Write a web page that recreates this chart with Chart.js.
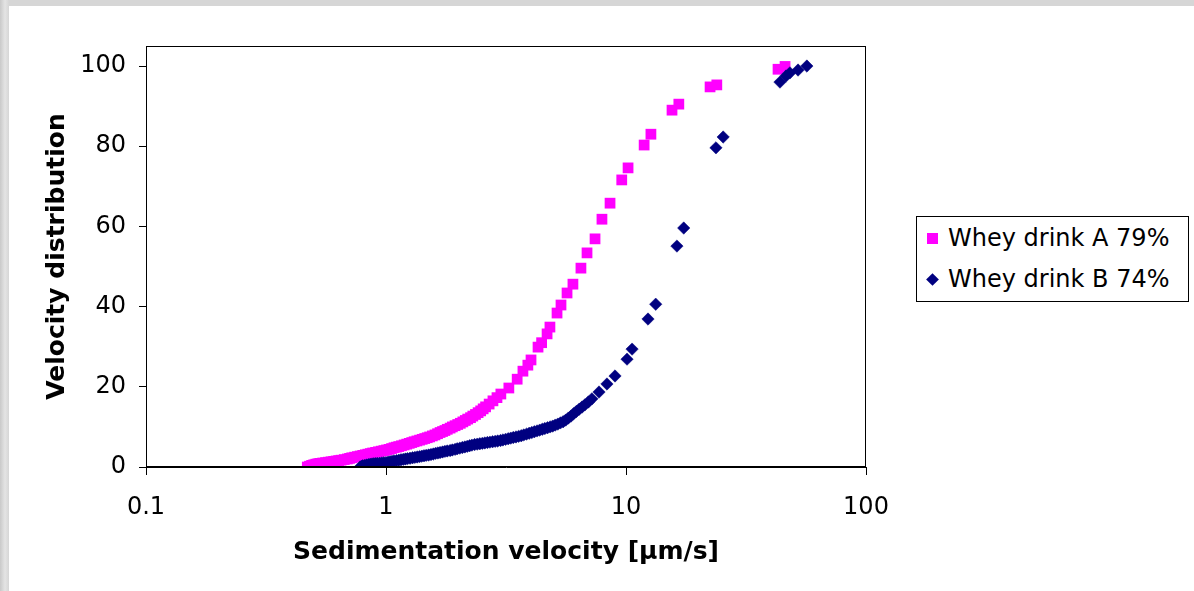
<!DOCTYPE html>
<html>
<head>
<meta charset="utf-8">
<script src="https://cdn.jsdelivr.net/npm/chart.js@4.4.0/dist/chart.umd.min.js"></script>
<style>
  html, body { margin:0; padding:0; width:1194px; height:591px; overflow:hidden;
    background: linear-gradient(90deg, #c9c9c9 0px, #e4e4e4 5px, #d6d6d6 9px); }
  #wrap { position:absolute; left:9px; top:6px; width:1185px; height:585px; background:#fff; }
  #chart { position:absolute; left:0; top:0; }
  #legend { position:absolute; left:907px; top:210px; width:271px; height:84px;
    border:1px solid #000; background:#fff; font-family:'DejaVu Sans', sans-serif; font-size:24px; color:#000; }
  .row { position:absolute; left:0; height:41px; line-height:41px; white-space:nowrap; }
  .row span.t { position:absolute; left:31px; top:0; }
  .mk { position:absolute; }
</style>
</head>
<body>
<div id="wrap">
  <canvas id="chart" width="1185" height="585"></canvas>
  <div id="legend"></div>
</div>
<script>
// ---- data: [velocity, distribution] ----
const seriesNames = ['Whey drink A 79%', 'Whey drink B 74%'];
const seriesColors = ['#FF00FF', '#000080'];

const seriesA = [
  [0.47,0.0],[0.48,0.2],[0.49,0.4],[0.50,0.55],[0.51,0.7],[0.52,0.8],[0.53,0.9],[0.545,1.0],
  [0.56,1.1],[0.575,1.2],[0.59,1.3],[0.605,1.4],[0.62,1.5],[0.635,1.6],[0.65,1.7],[0.67,1.85],
  [0.69,2.0],[0.705,2.15],[0.72,2.3],[0.74,2.45],[0.76,2.6],[0.78,2.75],[0.80,2.9],[0.82,3.05],
  [0.84,3.2],[0.86,3.35],[0.88,3.5],[0.905,3.65],[0.93,3.8],[0.955,3.95],[0.98,4.1],[1.005,4.25],
  [1.03,4.4],[1.055,4.6],[1.08,4.8],[1.105,4.95],[1.13,5.1],[1.16,5.3],[1.19,5.5],[1.22,5.7],
  [1.25,5.9],[1.28,6.1],[1.31,6.3],[1.345,6.5],[1.38,6.7],[1.415,6.9],[1.45,7.1],[1.485,7.3],
  [1.52,7.5],[1.56,7.75],[1.60,8.0],[1.64,8.3],[1.68,8.6],[1.72,8.85],[1.76,9.1],[1.80,9.4],
  [1.85,9.7],[1.89,10.0],[1.94,10.3],[1.99,10.6],[2.04,10.9],[2.09,11.25],[2.14,11.6],[2.19,11.95],
  [2.25,12.3],[2.30,12.7],[2.36,13.1],[2.42,13.55],[2.48,14.0],[2.54,14.5],[2.60,15.0],[2.69,15.7],
  [2.79,16.5],[2.90,17.3],[3.01,18.2],[3.25,19.7],[3.52,21.9],[3.72,23.9],[3.90,25.4],[4.02,26.7],
  [4.30,29.9],[4.45,31.0],[4.69,33.2],[4.82,34.9],[5.16,38.4],[5.36,40.4],[5.68,43.4],[6.01,45.6],
  [6.49,49.6],[6.88,53.4],[7.43,56.9],[7.94,61.8],[8.58,65.8],[9.6,71.6],[10.2,74.6],[11.9,80.3],
  [12.7,83.0],[15.55,89.0],[16.6,90.5],[22.4,94.8],[23.9,95.3],[43,99.2],[46,99.9]
];

const seriesB = [
  [0.78,0.0],[0.79,0.15],[0.80,0.3],[0.815,0.4],[0.83,0.5],[0.845,0.6],[0.86,0.7],[0.875,0.75],
  [0.89,0.8],[0.905,0.85],[0.92,0.9],[0.94,0.95],[0.96,1.0],[0.98,1.05],[1.00,1.1],[1.02,1.2],
  [1.04,1.3],[1.06,1.4],[1.08,1.5],[1.105,1.6],[1.13,1.7],[1.155,1.8],[1.18,1.9],[1.205,2.0],
  [1.23,2.1],[1.26,2.2],[1.29,2.3],[1.32,2.4],[1.35,2.5],[1.38,2.6],[1.41,2.7],[1.44,2.8],
  [1.47,2.9],[1.505,3.0],[1.54,3.1],[1.575,3.25],[1.61,3.4],[1.645,3.5],[1.68,3.6],[1.72,3.75],
  [1.76,3.9],[1.80,4.0],[1.85,4.1],[1.89,4.25],[1.94,4.4],[1.98,4.55],[2.03,4.7],[2.08,4.85],
  [2.13,5.0],[2.18,5.15],[2.23,5.3],[2.28,5.45],[2.34,5.6],[2.40,5.7],[2.46,5.8],[2.52,5.9],
  [2.58,6.0],[2.645,6.1],[2.71,6.2],[2.78,6.3],[2.85,6.4],[2.92,6.5],[3.00,6.6],[3.07,6.75],
  [3.15,6.9],[3.23,7.05],[3.31,7.2],[3.39,7.35],[3.48,7.5],[3.57,7.65],[3.66,7.8],[3.75,8.0],
  [3.85,8.2],[3.95,8.4],[4.05,8.6],[4.15,8.8],[4.26,9.0],[4.37,9.2],[4.48,9.4],[4.59,9.6],
  [4.71,9.8],[4.83,10.0],[4.95,10.2],[5.07,10.45],[5.20,10.7],[5.33,11.0],[5.47,11.3],[5.61,11.7],
  [5.75,12.2],[5.90,12.7],[6.05,13.3],[6.21,13.85],[6.38,14.4],[6.56,14.95],[6.74,15.5],[6.97,16.2],
  [7.21,17.0],[7.72,18.7],[8.33,20.7],[9.0,22.7],[10.1,26.9],[10.6,29.4],[12.35,36.9],[13.3,40.6],
  [16.3,55.1],[17.4,59.6],[23.7,79.6],[25.4,82.3],[43.8,96.0],[46.4,97.5],[48.2,98.3],[52.1,99.0],
  [56.7,100]
];

const xTickValues = [0.1, 1, 10, 100];
const yTickValues = [0, 20, 40, 60, 80, 100];
const xTitle = 'Sedimentation velocity [µm/s]';
const yTitle = 'Velocity distribution';

// ---- build ----
const toPts = arr => arr.map(p => ({x: p[0], y: p[1]}));
const FONT = "'DejaVu Sans', sans-serif";

const frame = {
  id: 'frame',
  afterDraw(chart) {
    const a = chart.chartArea, ctx = chart.ctx;
    ctx.save();
    ctx.strokeStyle = '#000';
    ctx.lineWidth = 1;
    ctx.strokeRect(Math.round(a.left) + 0.5, Math.round(a.top) + 0.5,
      Math.round(a.right - a.left) - 1, Math.round(a.bottom - a.top) - 1);
    ctx.restore();
  }
};

new Chart(document.getElementById('chart'), {
  type: 'scatter',
  data: {
    datasets: [
      { label: seriesNames[0], data: toPts(seriesA), order: 2,
        pointStyle: 'rect', pointRadius: 7.6, pointBackgroundColor: seriesColors[0],
        pointBorderColor: seriesColors[0], pointBorderWidth: 0, showLine: false },
      { label: seriesNames[1], data: toPts(seriesB), order: 1,
        pointStyle: 'rectRot', pointRadius: 6.2, pointBackgroundColor: seriesColors[1],
        pointBorderColor: seriesColors[1], pointBorderWidth: 0.5, showLine: false }
    ]
  },
  options: {
    responsive: false,
    animation: false,
    layout: { padding: { left: 0, top: 40, right: 328, bottom: 24 } },
    plugins: { legend: { display: false }, tooltip: { enabled: false } },
    scales: {
      x: {
        type: 'logarithmic', min: 0.1, max: 100, position: 'bottom',
        afterBuildTicks: s => { s.ticks = xTickValues.map(v => ({ value: v })); },
        afterFit: s => { s.height = 100; },
        ticks: { callback: v => String(v), font: { family: FONT, size: 24 }, color: '#000',
          padding: 18, maxRotation: 0, autoSkip: false },
        grid: { drawOnChartArea: false, drawTicks: true, tickLength: 8, tickColor: '#000', color: '#000' },
        border: { display: true, color: '#000', width: 1 },
        title: { display: true, text: xTitle, color: '#000',
          font: { family: FONT, size: 25, weight: 'bold' }, padding: { top: 0, bottom: 0 } }
      },
      y: {
        type: 'linear', min: 0, max: 105,
        afterBuildTicks: s => { s.ticks = yTickValues.map(v => ({ value: v })); },
        afterFit: s => { s.width = 137; },
        ticks: { font: { family: FONT, size: 24 }, color: '#000', padding: 13 },
        grid: { drawOnChartArea: false, drawTicks: true, tickLength: 7, tickColor: '#000', color: '#000' },
        border: { display: true, color: '#000', width: 1 },
        title: { display: true, text: yTitle, color: '#000',
          font: { family: FONT, size: 25, weight: 'bold' }, padding: { top: 33, bottom: 0 } }
      }
    }
  },
  plugins: [frame]
});

// ---- HTML legend ----
const leg = document.getElementById('legend');
seriesNames.forEach((name, i) => {
  const row = document.createElement('div');
  row.className = 'row';
  row.style.top = (1 + i * 41) + 'px';
  row.style.width = '100%';
  const mk = document.createElement('div');
  mk.className = 'mk';
  if (i === 0) {
    mk.style.cssText = 'left:10px;top:15px;width:11px;height:11px;background:' + seriesColors[0] + ';';
  } else {
    mk.style.cssText = 'left:11px;top:16px;width:9px;height:9px;transform:rotate(45deg);background:' + seriesColors[1] + ';';
  }
  const t = document.createElement('span');
  t.className = 't';
  t.textContent = name;
  row.appendChild(mk);
  row.appendChild(t);
  leg.appendChild(row);
});
</script>
</body>
</html>
